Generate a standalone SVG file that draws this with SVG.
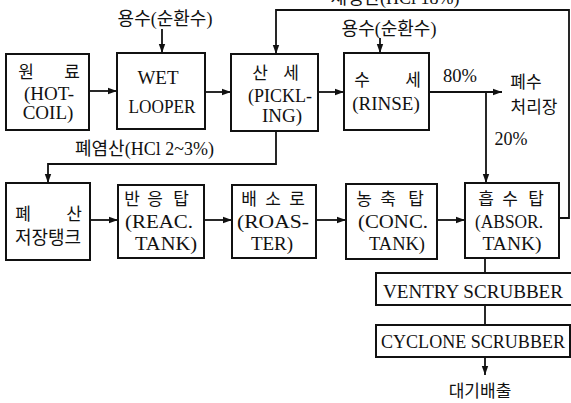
<svg xmlns="http://www.w3.org/2000/svg" width="571" height="403" viewBox="0 0 571 403">
<defs>
<marker id="ah" markerWidth="10" markerHeight="8" refX="9" refY="4" orient="auto" markerUnits="userSpaceOnUse">
<path d="M0,0.8 L9,4 L0,7.2 Z" fill="#111"/>
</marker>
<style>
.box{fill:#fff;stroke:#111;stroke-width:2}
.ln{fill:none;stroke:#111;stroke-width:1.8}
.ar{fill:none;stroke:#111;stroke-width:1.8;marker-end:url(#ah)}
text{font-family:"Liberation Serif","Noto Sans CJK KR",serif;fill:#111;font-size:19px}
.s{font-family:"Liberation Serif","Noto Sans CJK KR",serif}
.k{font-family:"Noto Sans CJK KR","Liberation Serif",sans-serif;font-size:17px;text-anchor:middle}
.m{font-family:"Liberation Serif",serif;text-anchor:middle}
.lab{font-size:18px}
</style>
</defs>
<rect width="571" height="403" fill="#fff"/>

<g id="connectors">
<path class="ar" d="M90,91 H117"/>
<path class="ar" d="M205,92 H231"/>
<path class="ar" d="M318,92 H344"/>
<path class="ar" d="M429,92 H502"/>
<path class="ar" d="M486,92 V183"/>
<path class="ar" d="M162,29 V53"/>
<path class="ar" d="M380,38 V53"/>
<path class="ar" d="M559,218 H569 V10 H276 V54"/>
<path class="ar" d="M276,131 V164 H48 V183"/>
<path class="ar" d="M90,220 H118"/>
<path class="ar" d="M204,220 H232"/>
<path class="ar" d="M316,220 H346"/>
<path class="ar" d="M437,220 H465"/>
<path class="ln" d="M485,258 V273"/>
<path class="ln" d="M485,305 V325"/>
<path class="ar" d="M485,357 V375"/>
</g>

<g id="labels">
<text class="lab s" x="395" y="4" text-anchor="middle">재생산(HCl 18%)</text>
<text class="lab s" x="165" y="25" text-anchor="middle">용수(순환수)</text>
<text class="lab s" x="389" y="35" text-anchor="middle">용수(순환수)</text>
<text class="lab s" x="75" y="155">폐염산(HCl 2~3%)</text>
<text class="m" x="460" y="82" textLength="34" lengthAdjust="spacingAndGlyphs">80%</text>
<text class="m" x="511" y="145" textLength="33" lengthAdjust="spacingAndGlyphs">20%</text>
<text class="k" x="526" y="88">폐수</text>
<text class="k" x="534" y="113">처리장</text>
<text class="k" x="480" y="397">대기배출</text>
</g>

<g id="n-raw">
<rect class="box" x="6" y="54" width="83" height="76"/>
<text class="k" x="26 72" y="78">원료</text>
<text class="m" x="49" y="100">(HOT-</text>
<text class="m" x="48" y="119">COIL)</text>
</g>

<g id="n-wet">
<rect class="box" x="117" y="53" width="88" height="76"/>
<text class="m" x="158" y="84">WET</text>
<text class="m" x="162" y="113" textLength="67" lengthAdjust="spacingAndGlyphs">LOOPER</text>
</g>

<g id="n-pickling">
<rect class="box" x="231" y="54" width="87" height="77"/>
<text class="k" x="260 291" y="79">산세</text>
<text class="m" x="280" y="102" textLength="64" lengthAdjust="spacingAndGlyphs">(PICKL-</text>
<text class="m" x="282" y="122">ING)</text>
</g>

<g id="n-rinse">
<rect class="box" x="344" y="53" width="85" height="77"/>
<text class="k" x="362 413" y="86">수세</text>
<text class="m" x="386" y="110">(RINSE)</text>
</g>

<g id="n-waste">
<rect class="box" x="6" y="183" width="84" height="77"/>
<text class="k" x="23 74" y="220">폐산</text>
<text class="k" x="48" y="244" style="font-size:18px">저장탱크</text>
</g>

<g id="n-reac">
<rect class="box" x="118" y="185" width="86" height="73"/>
<text class="k" x="132 155 181" y="205">반응탑</text>
<text class="m" x="159" y="228" textLength="68" lengthAdjust="spacingAndGlyphs">(REAC.</text>
<text class="m" x="166" y="250" textLength="62" lengthAdjust="spacingAndGlyphs">TANK)</text>
</g>

<g id="n-roaster">
<rect class="box" x="232" y="185" width="84" height="73"/>
<text class="k" x="249 273 297" y="205">배소로</text>
<text class="m" x="273" y="228" textLength="72" lengthAdjust="spacingAndGlyphs">(ROAS-</text>
<text class="m" x="272" y="250">TER)</text>
</g>

<g id="n-conc">
<rect class="box" x="346" y="184" width="91" height="75"/>
<text class="k" x="364 388 416" y="205">농축탑</text>
<text class="m" x="393" y="228" textLength="70" lengthAdjust="spacingAndGlyphs">(CONC.</text>
<text class="m" x="397" y="250" textLength="56" lengthAdjust="spacingAndGlyphs">TANK)</text>
</g>

<g id="n-absor">
<rect class="box" x="465" y="183" width="94" height="75"/>
<text class="k" x="486 510 536" y="205">흡수탑</text>
<text class="m" x="509" y="228" textLength="68" lengthAdjust="spacingAndGlyphs">(ABSOR.</text>
<text class="m" x="512" y="250" textLength="59" lengthAdjust="spacingAndGlyphs">TANK)</text>
</g>

<g id="n-ventry">
<rect class="box" x="376" y="273" width="210" height="32"/>
<text class="s" x="383" y="298" textLength="180" lengthAdjust="spacingAndGlyphs">VENTRY SCRUBBER</text>
</g>

<g id="n-cyclone">
<rect class="box" x="376" y="325" width="194" height="32"/>
<text class="s" x="381" y="348" textLength="184" lengthAdjust="spacingAndGlyphs">CYCLONE SCRUBBER</text>
</g>
</svg>
